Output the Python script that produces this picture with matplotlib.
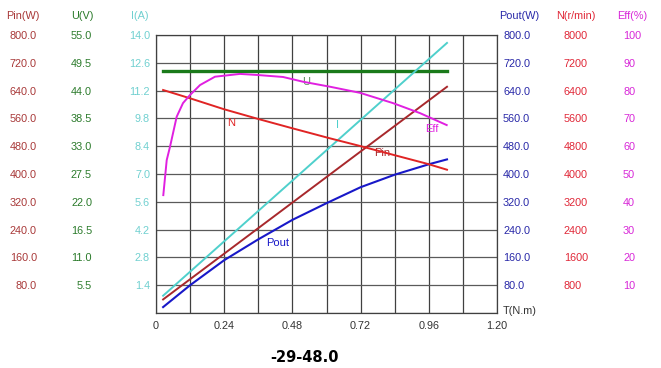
import matplotlib
matplotlib.use('Agg')
import matplotlib.pyplot as plt

# ---- data ----
torque_lin = [0.025, 1.024]
pin_w = [39, 651]
current_a = [0.87, 13.6]
voltage_v = [47.9, 47.9]

torque_n = [0.025, 0.12, 0.24, 0.36, 0.48, 0.612, 0.718, 0.837, 0.957, 1.024]
speed_rpm = [6417, 6178, 5862, 5583, 5315, 5027, 4806, 4547, 4288, 4123]

torque_pout = [0.025, 0.12, 0.24, 0.36, 0.48, 0.60, 0.72, 0.84, 0.96, 1.024]
pout_w = [17, 80, 152, 212, 268, 316, 362, 398, 428, 442]

torque_eff = [0.0257, 0.0377, 0.0493, 0.0728, 0.095, 0.1196, 0.155, 0.2076, 0.2956,
              0.359, 0.447, 0.517, 0.612, 0.718, 0.834, 0.929, 1.023]
eff_pct = [42.4, 55.0, 59.8, 70.6, 75.5, 78.4, 82.0, 85.0, 86.0,
           85.6, 84.9, 83.2, 81.4, 79.2, 75.5, 71.9, 67.6]

pin_ticks = [80, 160, 240, 320, 400, 480, 560, 640, 720, 800]
u_ticks = [5.5, 11.0, 16.5, 22.0, 27.5, 33.0, 38.5, 44.0, 49.5, 55.0]
i_ticks = [1.4, 2.8, 4.2, 5.6, 7.0, 8.4, 9.8, 11.2, 12.6, 14.0]
pout_ticks = [80, 160, 240, 320, 400, 480, 560, 640, 720, 800]
n_ticks = [800, 1600, 2400, 3200, 4000, 4800, 5600, 6400, 7200, 8000]
eff_ticks = [10, 20, 30, 40, 50, 60, 70, 80, 90, 100]
x_ticks = [0, 0.24, 0.48, 0.72, 0.96, 1.20]
x_tick_labels = ['0', '0.24', '0.48', '0.72', '0.96', '1.20']
title_text = '-29-48.0'

# ---- styling ----
plt.rcParams['font.family'] = ['Liberation Sans', 'DejaVu Sans']
W, H = 661, 368
fig = plt.figure(figsize=(W / 100, H / 100), dpi=100)
L, R, T, B = 156, 497, 35, 313
ax = fig.add_axes([L / W, 1 - B / H, (R - L) / W, (B - T) / H])

c_pin, c_u, c_i = '#a8282c', '#1a7a1a', '#4fd0cc'
c_pout, c_n, c_eff = '#1818c8', '#e02424', '#e020e0'
lab_pin, lab_u, lab_i = '#a83838', '#2a7a2a', '#70d0d0'
lab_pout, lab_n, lab_eff = '#2828a8', '#e02838', '#d828d8'
fs = 7.8
px2pt = 0.72

ax.set_xlim(0, 1.2)
ax.set_ylim(0, 800)
ax.set_xticks([i * 0.12 for i in range(11)])
ax.set_xticklabels([x_tick_labels[x_ticks.index(round(i * 0.12, 2))] if round(i * 0.12, 2) in x_ticks else ''
                    for i in range(11)])
ax.tick_params(axis='x', length=0, pad=6, labelsize=fs, colors='#333333')
ax.set_yticks([0] + pin_ticks)
ax.set_yticklabels([''] + ['%.1f' % v for v in pin_ticks])
ax.grid(True, axis='x', color='#404040', lw=0.9)
ax.grid(True, axis='y', color='#5a5a5a', lw=0.9)
for s in ax.spines.values():
    s.set_color('#404040')
    s.set_linewidth(0.9)
ax.tick_params(axis='y', length=0, pad=(L - 37) * px2pt, labelsize=fs, labelcolor=lab_pin)
ax.set_axisbelow(True)


def make_twin(side, offset_px, ymax, ticks, labels, color):
    a = ax.twinx()
    a.set_ylim(0, ymax)
    for s in a.spines.values():
        s.set_visible(False)
    a.yaxis.set_ticks_position(side)
    a.yaxis.set_label_position(side)
    a.set_yticks(ticks)
    a.set_yticklabels(labels)
    a.tick_params(axis='y', length=0, pad=offset_px * px2pt, labelsize=fs, labelcolor=color)
    a.set_xlim(0, 1.2)
    return a


ax_u = make_twin('left', L - 92, 55, u_ticks, ['%.1f' % v for v in u_ticks], lab_u)
ax_i = make_twin('left', L - 150, 14, i_ticks, ['%.1f' % v for v in i_ticks], lab_i)
ax_pout = make_twin('right', 503 - R, 800, pout_ticks, ['%.1f' % v for v in pout_ticks], lab_pout)
ax_n = make_twin('right', 564 - R, 8000, n_ticks, ['%d' % v for v in n_ticks], lab_n)
ax_eff = make_twin('right', 623 - R, 100, eff_ticks, ['%d' % v for v in eff_ticks], lab_eff)

ax.plot(torque_lin, pin_w, color=c_pin, lw=1.4)
ax_u.plot(torque_lin, voltage_v, color=c_u, lw=2.4)
ax_i.plot(torque_lin, current_a, color=c_i, lw=1.4)
ax_pout.plot(torque_pout, pout_w, color=c_pout, lw=1.5)
ax_n.plot(torque_n, speed_rpm, color=c_n, lw=1.4)
ax_eff.plot(torque_eff, eff_pct, color=c_eff, lw=1.4)

# curve labels
lf = 8
ax_u.text(0.528, 45.7, 'U', color='#5a8a5a', fontsize=lf, ha='center', va='center')
ax_n.text(0.264, 5468, 'N', color=c_n, fontsize=lf, ha='center', va='center')
ax_i.text(0.640, 9.47, 'I', color=c_i, fontsize=lf, ha='center', va='center')
ax_eff.text(0.970, 66.2, 'Eff', color=c_eff, fontsize=lf, ha='center', va='center')
ax.text(0.797, 460, 'Pin', color=c_pin, fontsize=lf, ha='center', va='center')
ax_pout.text(0.429, 201, 'Pout', color=c_pout, fontsize=lf, ha='center', va='center')

# headers
hy = 1 - 15.7 / H
for x, txt, col in [(23, 'Pin(W)', lab_pin), (82, 'U(V)', lab_u), (140, 'I(A)', lab_i),
                    (519, 'Pout(W)', lab_pout), (576, 'N(r/min)', lab_n), (632, 'Eff(%)', lab_eff)]:
    fig.text(x / W, hy, txt, color=col, fontsize=fs, ha='center', va='center')

fig.text(503 / W, 1 - 311.5 / H, 'T(N.m)', color='#333333', fontsize=fs, ha='left', va='center')
fig.text(304.5 / W, 1 - 358 / H, title_text, color='black', fontsize=10.5, fontweight='bold',
         family=['DejaVu Sans'], ha='center', va='center')

fig.savefig('out.png', dpi=100)
